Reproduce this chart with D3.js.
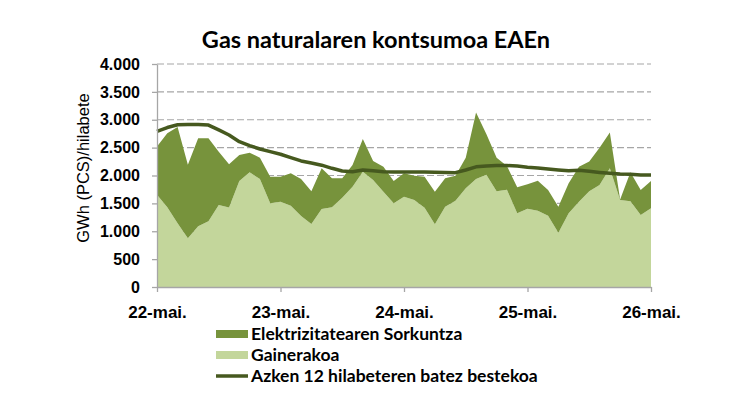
<!DOCTYPE html>
<html>
<head>
<meta charset="utf-8">
<script src="https://cdn.jsdelivr.net/npm/d3@7"></script>
<style>
  body { margin: 0; background: #fff; }
  svg { display: block; }
</style>
</head>
<body>
<svg id="chart" width="750" height="400"></svg>
<script>
// hilabeteak: 2022ko maiatzetik 2026ko maiatzera (49 puntu)
var tickLabels = ["22-mai.", "23-mai.", "24-mai.", "25-mai.", "26-mai."];
var tickIndex = [0, 12, 24, 36, 48];

var gainerakoa = [1655, 1430, 1143, 873, 1090, 1178, 1471, 1425, 1902, 2057, 1937, 1501,
                  1531, 1459, 1274, 1130, 1400, 1429, 1602, 1800, 2069, 1920, 1710, 1501,
                  1620, 1561, 1423, 1125, 1441, 1545, 1770, 1935, 2015, 1716, 1743, 1322,
                  1405, 1369, 1279, 974, 1322, 1531, 1716, 1830, 2129, 1561, 1537, 1292,
                  1411];
var elektrizitatea = [865, 1330, 1727, 1322, 1577, 1489, 957, 776, 466, 353, 383, 478,
                      448, 580, 663, 586, 729, 521, 348, 389, 586, 341, 449, 401,
                      419, 436, 556, 585, 509, 450, 550, 1195, 730, 604, 427, 468,
                      440, 539, 461, 467, 538, 628, 533, 670, 643, 9, 523, 448,
                      491];
var batezBestekoa = [2790, 2860, 2910, 2915, 2915, 2905, 2817, 2727, 2607, 2535, 2476, 2428,
                     2381, 2320, 2261, 2225, 2185, 2129, 2081, 2069, 2099, 2087, 2069, 2065,
                     2065, 2065, 2065, 2060, 2055, 2051, 2099, 2155, 2170, 2180, 2180, 2170,
                     2150, 2135, 2115, 2099, 2085, 2095, 2075, 2055, 2039, 2025, 2021, 2010,
                     2010];
var yTicks = [0, 500, 1000, 1500, 2000, 2500, 3000, 3500, 4000];

function drawChart() {
    var colDark = "#77933c", colLight = "#c3d69b", colLine = "#46591f", colAxis = "#a6a6a6";

    var svg = d3.select("#chart");
    var x0 = 157, x1 = 651, yTop = 64, yBottom = 287;

    var xScale = d3.scaleLinear().domain([0, gainerakoa.length - 1]).range([x0, x1]);
    var yScale = d3.scaleLinear().domain([0, 4000]).range([yBottom, yTop]);

    var rows = gainerakoa.map(function(v, i) {
        return { i: i, gainerakoa: v, elektrizitatea: elektrizitatea[i], avg: batezBestekoa[i] };
    });
    var series = d3.stack().keys(["gainerakoa", "elektrizitatea"])(rows);

    svg.append("text")
       .attr("x", 376)
       .attr("y", 48)
       .attr("text-anchor", "middle")
       .attr("font-family", "Lato")
       .attr("font-weight", "bold")
       .attr("font-size", "23.5px")
       .attr("fill", "#000")
       .text("Gas naturalaren kontsumoa EAEn");

    // grid lines behind the areas
    svg.append("g")
       .selectAll("line")
       .data(yTicks.slice(1))
       .enter().append("line")
       .attr("x1", x0).attr("x2", x1)
       .attr("y1", function(d) { return yScale(d); })
       .attr("y2", function(d) { return yScale(d); })
       .attr("stroke", colAxis)
       .attr("stroke-width", 1.2)
       .attr("stroke-dasharray", "7,3");

    var area = d3.area()
        .x(function(d) { return xScale(d.data.i); })
        .y0(function(d) { return yScale(d[0]); })
        .y1(function(d) { return yScale(d[1]); });

    svg.append("g")
       .selectAll("path")
       .data(series)
       .enter().append("path")
       .attr("d", area)
       .attr("fill", function(d) { return d.key == "gainerakoa" ? colLight : colDark; });

    svg.append("path")
       .datum(rows)
       .attr("fill", "none")
       .attr("stroke", colLine)
       .attr("stroke-width", 3.5)
       .attr("stroke-linejoin", "round")
       .attr("d", d3.line()
           .x(function(d) { return xScale(d.i); })
           .y(function(d) { return yScale(d.avg); }));

    var fmt = d3.formatLocale({ decimal: ",", thousands: ".", grouping: [3], currency: ["", "€"] }).format(",");

    var yAxis = svg.append("g")
       .attr("transform", "translate(" + x0 + ",0)")
       .call(d3.axisLeft(yScale).tickValues(yTicks).tickFormat(fmt).tickSize(5).tickSizeOuter(0).tickPadding(12));

    var xAxis = svg.append("g")
       .attr("transform", "translate(0," + yBottom + ")")
       .call(d3.axisBottom(xScale).tickValues(tickIndex)
           .tickFormat(function(d, k) { return tickLabels[k]; })
           .tickSize(5).tickSizeOuter(0).tickPadding(14));

    [yAxis, xAxis].forEach(function(a) {
        a.select(".domain").attr("stroke", colAxis).attr("stroke-width", 1.3);
        a.selectAll(".tick line").attr("stroke", colAxis).attr("stroke-width", 1.3);
        a.selectAll(".tick text")
         .attr("fill", "#000")
         .attr("font-family", "Liberation Sans, Arial")
         .attr("font-weight", "bold");
    });
    yAxis.selectAll(".tick text").attr("font-size", "16px");
    xAxis.selectAll(".tick text").attr("font-size", "17px");

    svg.append("text")
       .attr("transform", "translate(89,168) rotate(-90)")
       .attr("text-anchor", "middle")
       .attr("font-family", "Liberation Sans, Arial")
       .attr("font-size", "16.5px")
       .attr("fill", "#000")
       .text("GWh (PCS)/hilabete");

    // legend
    var legend = [
        { name: "Elektrizitatearen Sorkuntza", type: "rect", color: colDark },
        { name: "Gainerakoa", type: "rect", color: colLight },
        { name: "Azken 12 hilabeteren batez bestekoa", type: "line", color: colLine }
    ];
    var lg = svg.append("g").attr("transform", "translate(216,334)");
    legend.forEach(function(d, k) {
        var row = lg.append("g").attr("transform", "translate(0," + (k * 21) + ")");
        if (d.type == "rect") {
            row.append("rect").attr("x", 0).attr("y", -4).attr("width", 32).attr("height", 8).attr("fill", d.color);
        } else {
            row.append("line").attr("x1", 0).attr("x2", 32).attr("y1", 0).attr("y2", 0)
               .attr("stroke", d.color).attr("stroke-width", 3.5);
        }
        row.append("text")
           .attr("x", 35)
           .attr("y", 6)
           .attr("font-family", "Lato")
           .attr("font-weight", "bold")
           .attr("font-size", "17.5px")
           .attr("fill", "#000")
           .text(d.name);
    });
}

drawChart();
</script>
</body>
</html>
